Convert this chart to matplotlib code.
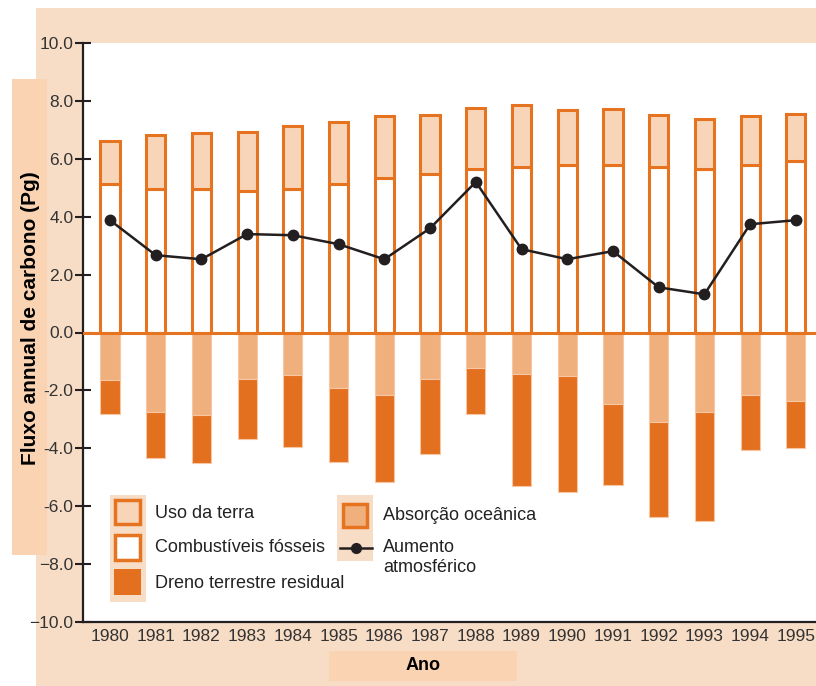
"""Fluxo anual de carbono, 1980-1995 (barras empilhadas + linha)."""

import matplotlib.pyplot as plt
import numpy as np
from matplotlib.patches import Rectangle
from matplotlib.lines import Line2D

plt.rcParams["font.family"] = ["Liberation Sans", "DejaVu Sans"]

years = list(range(1980, 1996))
fossil = [5.14, 4.97, 4.97, 4.90, 4.97, 5.14, 5.32, 5.46, 5.66, 5.73, 5.77, 5.80, 5.70, 5.66, 5.77, 5.94]
land_top = [6.63, 6.83, 6.90, 6.94, 7.15, 7.28, 7.49, 7.53, 7.77, 7.87, 7.70, 7.73, 7.53, 7.39, 7.49, 7.56]
land_use = [t - f for t, f in zip(land_top, fossil)]
ocean = [-1.63, -2.74, -2.84, -1.59, -1.46, -1.91, -2.15, -1.59, -1.21, -1.42, -1.49, -2.46, -3.08, -2.74, -2.15, -2.36]
sink_total = [-2.81, -4.33, -4.51, -3.67, -3.95, -4.47, -5.16, -4.19, -2.81, -5.30, -5.51, -5.27, -6.38, -6.52, -4.06, -3.99]
residual = [s - o for s, o in zip(sink_total, ocean)]
atmos = [3.88, 2.67, 2.53, 3.40, 3.36, 3.05, 2.53, 3.60, 5.20, 2.88, 2.53, 2.81, 1.56, 1.32, 3.74, 3.88]

yticks = [10, 8, 6, 4, 2, 0, -2, -4, -6, -8, -10]
ytick_labels = ["10.0", "8.0", "6.0", "4.0", "2.0", "0.0", "-2.0", "-4.0", "-6.0", "\u22128.0", "\u221210.0"]

ORANGE = "#E5731F"
LAND = "#F8D5B8"
OCEAN = "#F0B07E"
RESID = "#E2701E"
FRAME = "#F8DDC6"
LABELBOX = "#FAD3B3"
DARK = "#231F20"

W, H = 816, 686
fig = plt.figure(figsize=(W / 100, H / 100), dpi=100)


def px(x0, y0, x1, y1):
    """pixel box (top-left origin) -> figure fraction [x, y, w, h]"""
    return [x0 / W, (H - y1) / H, (x1 - x0) / W, (y1 - y0) / H]


def frect(x0, y0, x1, y1, **kw):
    b = px(x0, y0, x1, y1)
    fig.patches.append(Rectangle((b[0], b[1]), b[2], b[3], transform=fig.transFigure, **kw))


# background panels, behind the axes
frect(36, 8, 820, 686, facecolor=FRAME, edgecolor="none", zorder=-2)
frect(12, 79, 47, 555, facecolor=LABELBOX, edgecolor="none", zorder=-1)
frect(329, 651, 517, 681, facecolor=LABELBOX, edgecolor="none", zorder=-1)

ax = fig.add_axes(px(83, 43, 816, 622))
ax.set_facecolor("white")

x = np.array(years)
bw = 0.42
ax.bar(x, fossil, bw, color="white", edgecolor=ORANGE, linewidth=2.2, zorder=2)
ax.bar(x, land_use, bw, bottom=fossil, color=LAND, edgecolor=ORANGE, linewidth=2.2, zorder=2)
ax.bar(x, ocean, bw, color=OCEAN, edgecolor="#F6C7A2", linewidth=0.8, zorder=2)
ax.bar(x, residual, bw, bottom=ocean, color=RESID, edgecolor="#F6C7A2", linewidth=0.8, zorder=2)
ax.axhline(0, color=ORANGE, linewidth=2.2, zorder=3)
ax.plot(x, atmos, color=DARK, linewidth=1.8, marker="o", markersize=7.5, zorder=4)

ax.set_xlim(1979.41, 1995.44)
ax.set_ylim(-10, 10)
ax.set_xticks(years)
ax.set_xticklabels([str(y) for y in years])
ax.set_yticks(yticks)
ax.set_yticklabels(ytick_labels)
ax.tick_params(axis="y", direction="inout", length=12, width=1.5, color=DARK,
               labelsize=12.5, labelcolor="#333333", pad=1)
ax.tick_params(axis="x", length=0, labelsize=12.5, labelcolor="#333333", pad=5)
for side in ("top", "right"):
    ax.spines[side].set_visible(False)
for side in ("left", "bottom"):
    ax.spines[side].set_color(DARK)
    ax.spines[side].set_linewidth(1.6)

fig.text(31 / W, 1 - 318 / H, "Fluxo annual de carbono (Pg)", rotation=90,
         ha="center", va="center", fontsize=15, fontweight="bold", color="black")
fig.text(423 / W, 1 - 666 / H, "Ano", ha="center", va="center",
         fontsize=13, fontweight="bold", color="black")

# legend, drawn by hand to keep the two shaded columns
frect(110, 495, 146, 602, facecolor=FRAME, edgecolor="none", zorder=5)
frect(337, 495, 373, 561, facecolor=FRAME, edgecolor="none", zorder=5)
frect(115, 500, 140, 524, facecolor=LAND, edgecolor=ORANGE, linewidth=2.5, zorder=6)
frect(115, 535, 140, 560, facecolor="white", edgecolor=ORANGE, linewidth=2.5, zorder=6)
frect(114, 569, 141, 595, facecolor=RESID, edgecolor="none", zorder=6)
frect(343, 504, 367, 527, facecolor=OCEAN, edgecolor=ORANGE, linewidth=2.5, zorder=6)
fig.lines.append(Line2D([340 / W, 372 / W], [1 - 548 / H, 1 - 548 / H], transform=fig.transFigure,
                        color=DARK, linewidth=1.8, zorder=7))
fig.lines.append(Line2D([356 / W], [1 - 548 / H], transform=fig.transFigure,
                        color=DARK, marker="o", markersize=7, linestyle="none", zorder=7))

leg_kw = dict(ha="left", va="center", fontsize=13, color="#222222", zorder=8)
fig.text(155 / W, 1 - 513 / H, "Uso da terra", **leg_kw)
fig.text(155 / W, 1 - 548 / H, "Combustíveis fósseis", **leg_kw)
fig.text(155 / W, 1 - 583 / H, "Dreno terrestre residual", **leg_kw)
fig.text(383 / W, 1 - 515 / H, "Absorção oceânica", **leg_kw)
fig.text(383 / W, 1 - 548 / H, "Aumento", **leg_kw)
fig.text(383 / W, 1 - 568 / H, "atmosférico", **leg_kw)

fig.savefig("out.png", dpi=100)
